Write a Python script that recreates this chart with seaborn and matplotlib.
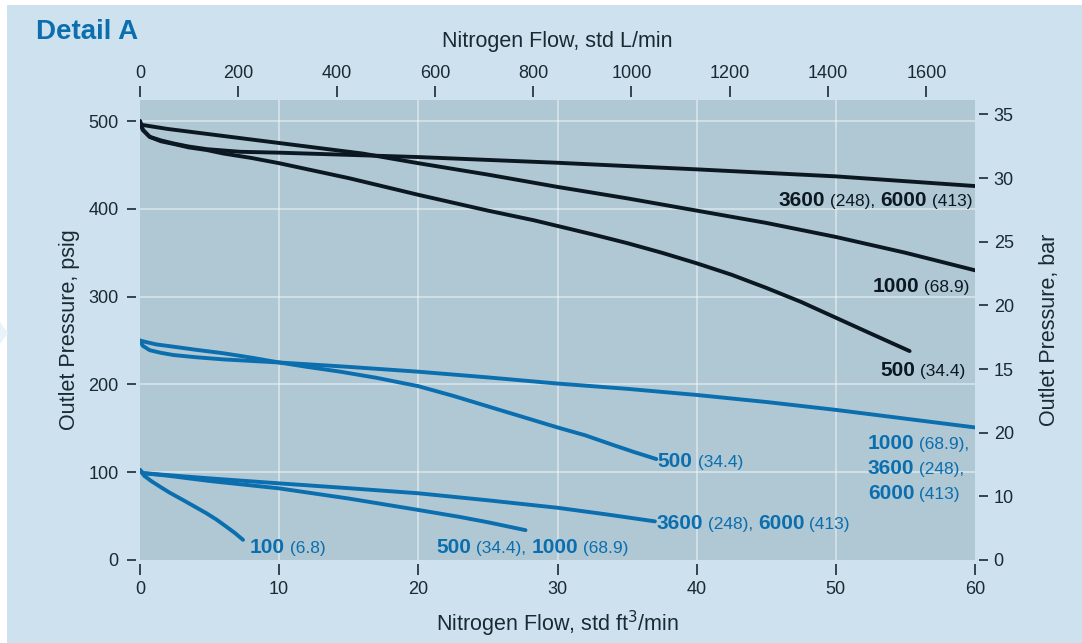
import numpy as np
import pandas as pd
import matplotlib
matplotlib.use('Agg')
import matplotlib.pyplot as plt
import matplotlib.transforms as mtransforms
from matplotlib.patches import Rectangle, Polygon
import seaborn as sns

# curves: flow in std ft3/min, outlet pressure in psig
blk_3600_x = [0, 0.2, 0.7, 1.5, 2.4, 3.5, 4.8, 7.2, 10, 15, 20, 30, 40, 50, 60]
blk_3600_y = [500, 490, 482, 478, 474.5, 471, 468, 465, 464, 461.5, 459, 452.5, 445, 437, 426]

blk_1000_x = [0, 2, 5, 10, 16, 20, 25, 30, 35, 40, 45, 50, 55, 60]
blk_1000_y = [496, 491, 485, 475, 463, 452, 439, 425, 412, 398, 384, 368, 350, 330]

blk_500_x = [0, 0.2, 0.7, 1.5, 2.4, 3.5, 4.8, 6, 8, 10, 15, 20, 25, 28.3, 32.5, 35,
             37.5, 40, 42.5, 45, 47.5, 50, 52.5, 55.3]
blk_500_y = [500, 490, 482, 477, 474, 470, 467, 463, 458, 452, 435, 416, 398, 387, 371, 361,
             350, 338, 325, 310, 294, 276, 258, 238]

blu_high_x = [0, 0.2, 0.7, 1.5, 2.4, 4, 6, 10, 15, 20, 25, 30, 35, 40, 45, 50, 55, 60]
blu_high_y = [250, 244, 239, 236, 233.5, 231, 228.5, 225, 220, 214.5, 208, 201, 195, 188,
              180, 171, 161, 151]

blu_500_x = [0, 0.5, 1.2, 2.4, 4, 6, 8, 10, 12, 14.4, 17, 20, 22.5, 25, 27.5, 30, 32, 34, 35.5, 37.1]
blu_500_y = [250, 248, 245.5, 243, 239.5, 235.5, 230.5, 225, 220, 214.5, 207.5, 198, 187, 175,
             163, 151, 142, 131, 123, 115]

blu_3600_x = [0, 0.2, 2, 5, 10, 15, 20, 25, 30, 33.5, 37]
blu_3600_y = [102.5, 99, 96.7, 93, 87.3, 81.8, 76, 68, 59.5, 52, 44]

blu_1000_x = [0, 0.2, 2, 5, 10, 15, 20, 23, 25, 27.7]
blu_1000_y = [102.5, 99, 96, 90, 81.6, 70, 57, 49, 43, 34]

blu_100_x = [0, 0.3, 0.8, 1.44, 2.1, 2.9, 3.8, 4.8, 5.5, 6.2, 6.8, 7.4]
blu_100_y = [102.5, 96, 90, 83.5, 77, 70, 62, 53, 46, 38, 31, 23]

bottom_ticks = [0, 10, 20, 30, 40, 50, 60]
top_ticks = [0, 200, 400, 600, 800, 1000, 1200, 1400, 1600]
left_ticks = [0, 100, 200, 300, 400, 500]
# right hand labels as printed (bar), placed at their psig equivalents
right_tick_bar = [35, 30, 25, 20, 15, 10, 5, 0]
right_tick_labels = ['35', '30', '25', '20', '15', '20', '10', '0']

L_PER_FT3 = 28.317
PSI_PER_BAR = 14.5038

BLUE = '#0b6eae'
BLACK = '#0b1821'
TXT = '#1a2a33'
PANEL = '#cde2ee'
AXBG = '#b0c8d4'

curves = {
    'k3600': (blk_3600_x, blk_3600_y),
    'k1000': (blk_1000_x, blk_1000_y),
    'k500': (blk_500_x, blk_500_y),
    'bhigh': (blu_high_x, blu_high_y),
    'b500': (blu_500_x, blu_500_y),
    'b3600': (blu_3600_x, blu_3600_y),
    'b1000': (blu_1000_x, blu_1000_y),
    'b100': (blu_100_x, blu_100_y),
}
rows = []
for name, (xs, ys) in curves.items():
    for a, b in zip(xs, ys):
        rows.append({'curve': name, 'flow': a, 'psig': b})
df = pd.DataFrame(rows)
palette = {k: (BLACK if k.startswith('k') else BLUE) for k in curves}

sns.set_style('white')
plt.rcParams['font.family'] = ['Liberation Sans', 'DejaVu Sans']

fig = plt.figure(figsize=(10.82, 6.43), dpi=100, facecolor='white')
fig.patches.append(Rectangle((7 / 1082, 0), 1, 1 - 5 / 643, transform=fig.transFigure,
                             facecolor=PANEL, edgecolor='none', zorder=-10))
fig.patches.append(Polygon([(0, 1 - 322 / 643), (8 / 1082, 1 - 333 / 643), (0, 1 - 344 / 643)],
                           closed=True, transform=fig.transFigure,
                           facecolor='#eaf3f8', edgecolor='none', zorder=-9))

ax = fig.add_axes([140 / 1082, 1 - 560 / 643, 835 / 1082, 460 / 643])
ax.set_facecolor(AXBG)

for name in curves:
    sns.lineplot(data=df[df.curve == name], x='flow', y='psig', sort=False, estimator=None,
                 color=palette[name], linewidth=2.8, legend=False, ax=ax,
                 solid_capstyle='round', solid_joinstyle='round', zorder=3)

ax.set_xlim(0, 60)
ax.set_ylim(0, 524)
for v in [10, 20, 30, 40, 50]:
    ax.axvline(v, color='white', alpha=0.45, lw=1.3, zorder=1)
for v in [100, 200, 300, 400, 500]:
    ax.axhline(v, color='white', alpha=0.45, lw=1.3, zorder=1)

for s in ax.spines.values():
    s.set_color('none')
ax.spines['bottom'].set_position(('outward', 3))
ax.spines['left'].set_position(('outward', 3))
ax.set_xticks(bottom_ticks)
ax.set_yticks(left_ticks)
ax.tick_params(axis='x', length=8, width=1.2, color=TXT, labelsize=13, labelcolor=TXT, pad=4)
ax.tick_params(axis='y', length=6.5, width=1.2, color=TXT, labelsize=13, labelcolor=TXT, pad=6)
ax.set_xlabel('Nitrogen Flow, std ft$^3$/min', fontsize=15.5, color=TXT, labelpad=8)
ax.set_ylabel('Outlet Pressure, psig', fontsize=15.5, color=TXT, labelpad=6)

# top axis: L/min
top = ax.twiny()
top.set_xlim(0, 60 * L_PER_FT3)
top.set_xticks(top_ticks)
for s in top.spines.values():
    s.set_color('none')
top.spines['top'].set_position(('outward', 2))
top.tick_params(axis='x', length=8, width=1.2, color=TXT, labelsize=13, labelcolor=TXT, pad=3)
top.set_xlabel('Nitrogen Flow, std L/min', fontsize=15.5, color=TXT, labelpad=13)

# right axis: bar
right = ax.twinx()
right.set_ylim(0, 524)
right.set_yticks([b * PSI_PER_BAR for b in right_tick_bar])
right.set_yticklabels(right_tick_labels)
for s in right.spines.values():
    s.set_color('none')
right.spines['right'].set_position(('outward', 3))
right.tick_params(axis='y', length=6.5, width=1.2, color=TXT, labelsize=13, labelcolor=TXT, pad=4)
right.set_ylabel('Outlet Pressure, bar', fontsize=15.5, color=TXT, labelpad=18)

fig.text(36 / 1082, 1 - 39 / 643, 'Detail A', fontsize=20, fontweight='bold', color=BLUE,
         ha='left', va='baseline')

renderer = fig.canvas.get_renderer()


def rich(x, y, parts, color, ha='left'):
    texts = []
    widths = []
    for s, small in parts:
        t = ax.text(x, y, s, fontsize=12.5 if small else 15, fontweight='normal' if small else 'bold',
                    color=color, va='baseline', ha='left', zorder=5)
        texts.append(t)
        widths.append(t.get_window_extent(renderer).width)
    off = -sum(widths) if ha == 'right' else 0
    for t, w in zip(texts, widths):
        t.set_transform(mtransforms.offset_copy(ax.transData, fig=fig, x=off, y=0, units='dots'))
        off += w


rich(59.8, 403, [('3600', False), (' (248), ', True), ('6000', False), (' (413)', True)], BLACK, 'right')
rich(59.6, 305, [('1000', False), (' (68.9)', True)], BLACK, 'right')
rich(59.3, 210, [('500', False), (' (34.4)', True)], BLACK, 'right')

rich(52.3, 126, [('1000', False), (' (68.9),', True)], BLUE)
rich(52.3, 98, [('3600', False), (' (248),', True)], BLUE)
rich(52.3, 69, [('6000', False), (' (413)', True)], BLUE)
rich(37.2, 106, [('500', False), (' (34.4)', True)], BLUE)
rich(37.1, 35, [('3600', False), (' (248), ', True), ('6000', False), (' (413)', True)], BLUE)
rich(21.3, 8, [('500', False), (' (34.4), ', True), ('1000', False), (' (68.9)', True)], BLUE)
rich(7.9, 8, [('100', False), (' (6.8)', True)], BLUE)

fig.savefig('out.png', dpi=100, facecolor='white')
